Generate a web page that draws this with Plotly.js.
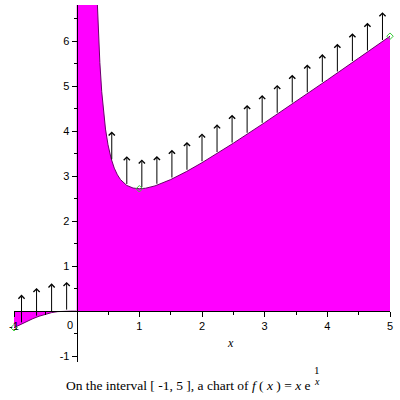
<!DOCTYPE html>
<html>
<head>
<meta charset="utf-8">
<script src="https://cdn.plot.ly/plotly-3.0.1.min.js"></script>
<style>html,body{margin:0;padding:0;background:#fff;}#chart{width:400px;height:400px;}</style>
</head>
<body>
<div id="chart"></div>
<script>
// f(x) = x e^(1/x), tabulated values read for the chart
var leftX = [-1, -0.9, -0.8, -0.7, -0.6, -0.5, -0.4, -0.3, -0.2, -0.1, 0];
var leftY = [-0.3679, -0.2963, -0.2292, -0.1678, -0.1133, -0.0677, -0.0328, -0.0107, -0.00135, -0.0000045, 0];
var rightX = [0, 0.1, 0.15, 0.2, 0.25, 0.3, 0.33, 0.34, 0.35, 0.37, 0.4, 0.43, 0.46, 0.5, 0.55, 0.6, 0.65, 0.7, 0.8, 0.9, 1.0, 1.1, 1.25, 1.5, 1.75, 2.0, 2.5, 3.0, 3.5, 4.0, 4.5, 5.0];
var rightY = [1e6, 2202.6, 117.9, 29.68, 13.65, 8.409, 6.831, 6.440, 6.094, 5.521, 4.873, 4.400, 4.044, 3.695, 3.389, 3.176, 3.028, 2.921, 2.792, 2.734, 2.7183, 2.730, 2.782, 2.922, 3.099, 3.297, 3.730, 4.187, 4.657, 5.136, 5.620, 6.107];
// arrows: base on the curve, pointing up
var arrowX = [-0.88, -0.64, -0.40, -0.16, 0.56, 0.80, 1.04, 1.28, 1.52, 1.76, 2.00, 2.24, 2.48, 2.72, 2.96, 3.20, 3.44, 3.68, 3.92, 4.16, 4.40, 4.64, 4.88];
var arrowBase = [-0.283, -0.134, -0.033, -0.0003, 3.340, 2.792, 2.720, 2.796, 2.935, 3.107, 3.297, 3.500, 3.712, 3.929, 4.150, 4.374, 4.601, 4.829, 5.059, 5.290, 5.523, 5.756, 5.990];
var arrowLen = [0.65, 0.65, 0.65, 0.65, 0.65, 0.65, 0.65, 0.65, 0.65, 0.65, 0.65, 0.65, 0.65, 0.65, 0.65, 0.65, 0.65, 0.65, 0.65, 0.65, 0.65, 0.65, 0.65];
var pointX = [-1, 1, 5];
var pointY = [-0.3679, 2.7183, 6.107];
var xTickVals = [-1, 1, 2, 3, 4, 5];
var xTickText = ['-1', '1', '2', '3', '4', '5'];
var yTickVals = [-1, 1, 2, 3, 4, 5, 6];
var yTickText = ['-1', '1', '2', '3', '4', '5', '6'];

var traces = [
  {x: leftX, y: leftY, type: 'scatter', mode: 'lines', fill: 'tozeroy', fillcolor: '#ff00ff',
   line: {color: '#6a006a', width: 1}, hoverinfo: 'skip'},
  {x: rightX, y: rightY, type: 'scatter', mode: 'lines', fill: 'tozeroy', fillcolor: '#ff00ff',
   line: {color: '#6a006a', width: 1}, hoverinfo: 'skip'},
  {x: pointX, y: pointY, type: 'scatter', mode: 'markers', cliponaxis: false,
   marker: {symbol: 'diamond-open', size: 5, color: '#33cc33', line: {width: 1}}, hoverinfo: 'skip'}
];

var ann = [];
for (var i = 0; i < arrowX.length; i++) {
  ann.push({x: arrowX[i], y: arrowBase[i] + arrowLen[i], ax: arrowX[i], ay: arrowBase[i],
    xref: 'x', yref: 'y', axref: 'x', ayref: 'y', text: '', showarrow: true,
    arrowhead: 4, arrowsize: 1.2, arrowwidth: 1, arrowcolor: '#000', standoff: 0, startstandoff: 0});
}
var PW = 376, PH = 357, L = 14, T = 5;
function px(p) { return (p - L) / PW; }
function py(q) { return (T + PH - q) / PH; }
var tickFont = {family: 'Liberation Sans, Arial, sans-serif', size: 11, color: '#000'};
ann.push({xref: 'paper', yref: 'paper', x: px(70), y: py(325), text: '0', showarrow: false, font: tickFont, xanchor: 'center', yanchor: 'middle'});
ann.push({xref: 'paper', yref: 'paper', x: px(230), y: py(343), text: '<i>x</i>', showarrow: false,
  font: {family: 'Liberation Serif, Times New Roman, serif', size: 12, color: '#000'}, xanchor: 'center', yanchor: 'middle'});
var titleFont = {family: 'Liberation Serif, Times New Roman, serif', size: 13.5, color: '#000'};
ann.push({xref: 'paper', yref: 'paper', x: px(313), y: py(385), xanchor: 'right', yanchor: 'middle', showarrow: false,
  text: 'On the interval [ -1, 5 ], a chart of <i>f</i> ( <i>x</i> ) = <i>x</i> e', font: titleFont});
ann.push({xref: 'paper', yref: 'paper', x: px(317), y: py(370), xanchor: 'center', yanchor: 'middle', showarrow: false,
  text: '1', font: {family: 'Liberation Serif, Times New Roman, serif', size: 11, color: '#000'}});
ann.push({xref: 'paper', yref: 'paper', x: px(317), y: py(381), xanchor: 'center', yanchor: 'middle', showarrow: false,
  text: '<i>x</i>', font: {family: 'Liberation Serif, Times New Roman, serif', size: 10, color: '#000'}});

var layout = {
  width: 400, height: 400,
  margin: {l: L, r: 400 - L - PW, t: T, b: 400 - T - PH, pad: 0},
  paper_bgcolor: '#fff', plot_bgcolor: '#fff',
  showlegend: false,
  xaxis: {range: [-1, 5], anchor: 'free', position: 1.13 / 7.93, showgrid: false, zeroline: false,
    showline: true, linecolor: '#000', linewidth: 1, ticks: 'outside', ticklen: 5, tickcolor: '#000', tickwidth: 1,
    tickmode: 'array', tickvals: xTickVals, ticktext: xTickText, tickfont: tickFont,
    minor: {tickmode: 'array', tickvals: [-0.5, 0.5, 1.5, 2.5, 3.5, 4.5], ticks: 'outside', ticklen: 3, tickcolor: '#000', showgrid: false}},
  yaxis: {range: [-1.13, 6.8], anchor: 'free', position: 1 / 6, showgrid: false, zeroline: false,
    showline: true, linecolor: '#000', linewidth: 1, ticks: 'outside', ticklen: 5, tickcolor: '#000', tickwidth: 1,
    tickmode: 'array', tickvals: yTickVals, ticktext: yTickText, tickfont: tickFont,
    minor: {tickmode: 'array', tickvals: [-0.5, 0.5, 1.5, 2.5, 3.5, 4.5, 5.5, 6.5], ticks: 'outside', ticklen: 3, tickcolor: '#000', showgrid: false}},
  annotations: ann
};
Plotly.newPlot('chart', traces, layout, {staticPlot: true, displayModeBar: false});
</script>
</body>
</html>
